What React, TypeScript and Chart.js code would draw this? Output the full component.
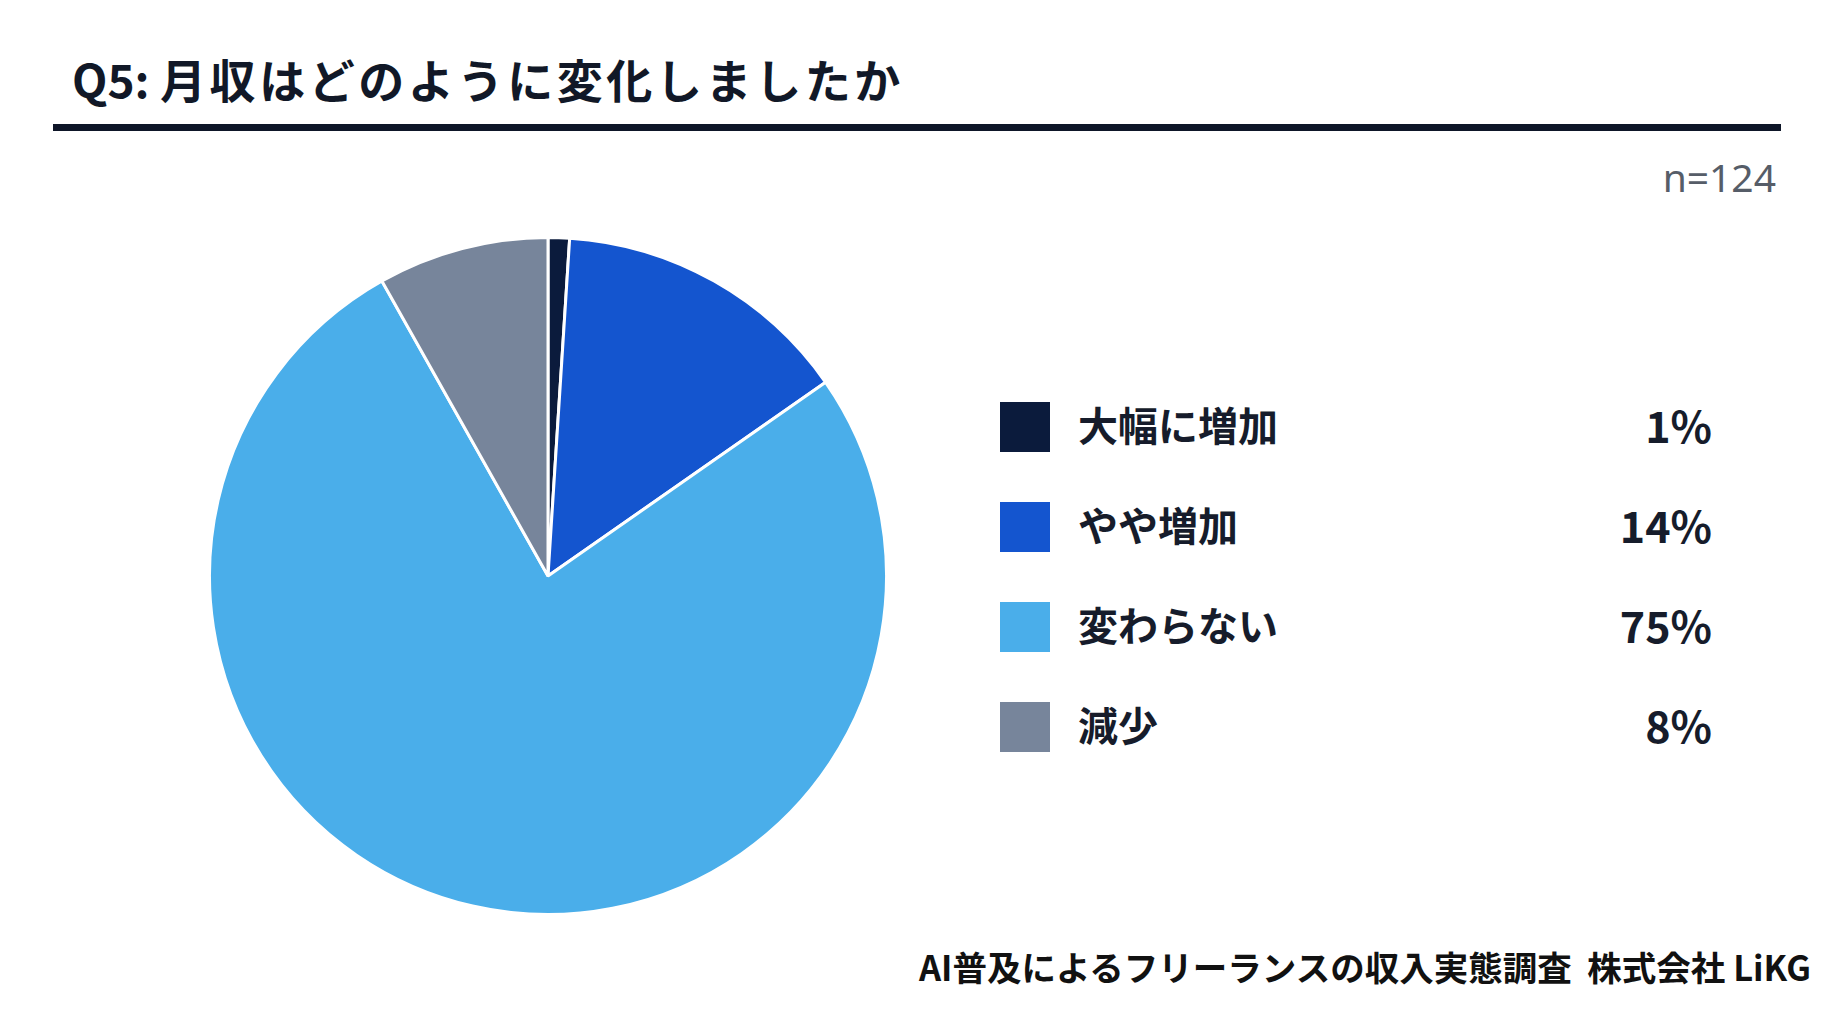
import React, { useEffect, useRef } from "react";
import { Chart, registerables } from "chart.js";

Chart.register(...registerables);

const categories = ["大幅に増加", "やや増加", "変わらない", "減少"];
const shares = [1, 14, 75, 8];
const shareLabels = ["1%", "14%", "75%", "8%"];
const sliceColors = ["#0b1b3c", "#1455cf", "#4aaeea", "#77859b"];
const titlePrefix = "Q5:";
const titleText = "月収はどのように変化しましたか";
const sampleNote = "n=124";
const sourceNote = "AI普及によるフリーランスの収入実態調査  株式会社 LiKG";

const JP = '"Noto Sans CJK JP", "Noto Sans", sans-serif';

function PieChart() {
  const ref = useRef<HTMLCanvasElement | null>(null);
  useEffect(() => {
    if (!ref.current) return;
    const chart = new Chart(ref.current, {
      type: "pie",
      data: {
        labels: categories,
        datasets: [
          {
            data: shares,
            backgroundColor: sliceColors,
            borderColor: "#ffffff",
            borderWidth: 3,
          },
        ],
      },
      options: {
        animation: false,
        responsive: false,
        maintainAspectRatio: false,
        layout: { padding: 0 },
        plugins: {
          legend: { display: false },
          tooltip: { enabled: false },
        },
      },
    });
    return () => chart.destroy();
  }, []);
  return <canvas ref={ref} width={680} height={680} style={{ width: 680, height: 680 }} />;
}

export default function App() {
  return (
    <div
      style={{
        position: "fixed",
        left: 0,
        top: 0,
        width: 1834,
        height: 1024,
        background: "#ffffff",
        fontFamily: JP,
        overflow: "hidden",
      }}
    >
      <div
        style={{
          position: "absolute",
          left: 72,
          top: 51,
          fontSize: 46,
          lineHeight: "54px",
          fontWeight: 700,
          color: "#111827",
          whiteSpace: "pre",
        }}
      >
        <span>{titlePrefix} </span>
        <span style={{ letterSpacing: 3.6 }}>{titleText}</span>
      </div>
      <div
        style={{
          position: "absolute",
          left: 53,
          top: 124,
          width: 1728,
          height: 7,
          background: "#0e1628",
        }}
      />
      <div
        style={{
          position: "absolute",
          right: 58,
          top: 154,
          fontSize: 39,
          lineHeight: "46px",
          fontFamily: '"Noto Sans", sans-serif',
          color: "#565d68",
          whiteSpace: "nowrap",
        }}
      >
        {sampleNote}
      </div>
      <div style={{ position: "absolute", left: 208, top: 236, width: 680, height: 680 }}>
        <PieChart />
      </div>
      <div style={{ position: "absolute", left: 1000, top: 402, width: 712 }}>
        {categories.map((c, i) => (
          <div
            key={c}
            style={{
              display: "flex",
              alignItems: "center",
              height: 50,
              marginBottom: i < categories.length - 1 ? 50 : 0,
            }}
          >
            <div
              style={{
                width: 50,
                height: 50,
                background: sliceColors[i],
                marginRight: 28,
                flex: "none",
              }}
            />
            <div
              style={{
                flex: 1,
                fontSize: 40,
                fontWeight: 700,
                color: "#161c2b",
                whiteSpace: "nowrap",
                lineHeight: "50px",
                position: "relative",
                top: -3,
              }}
            >
              {c}
            </div>
            <div
              style={{
                fontSize: 43,
                fontWeight: 700,
                color: "#161c2b",
                lineHeight: "50px",
                textAlign: "right",
                position: "relative",
                top: -3,
              }}
            >
              {shareLabels[i]}
            </div>
          </div>
        ))}
      </div>
      <div
        style={{
          position: "absolute",
          right: 23,
          top: 945,
          fontSize: 34.5,
          fontWeight: 700,
          lineHeight: "42px",
          color: "#111111",
          whiteSpace: "pre",
        }}
      >
        {sourceNote}
      </div>
    </div>
  );
}
